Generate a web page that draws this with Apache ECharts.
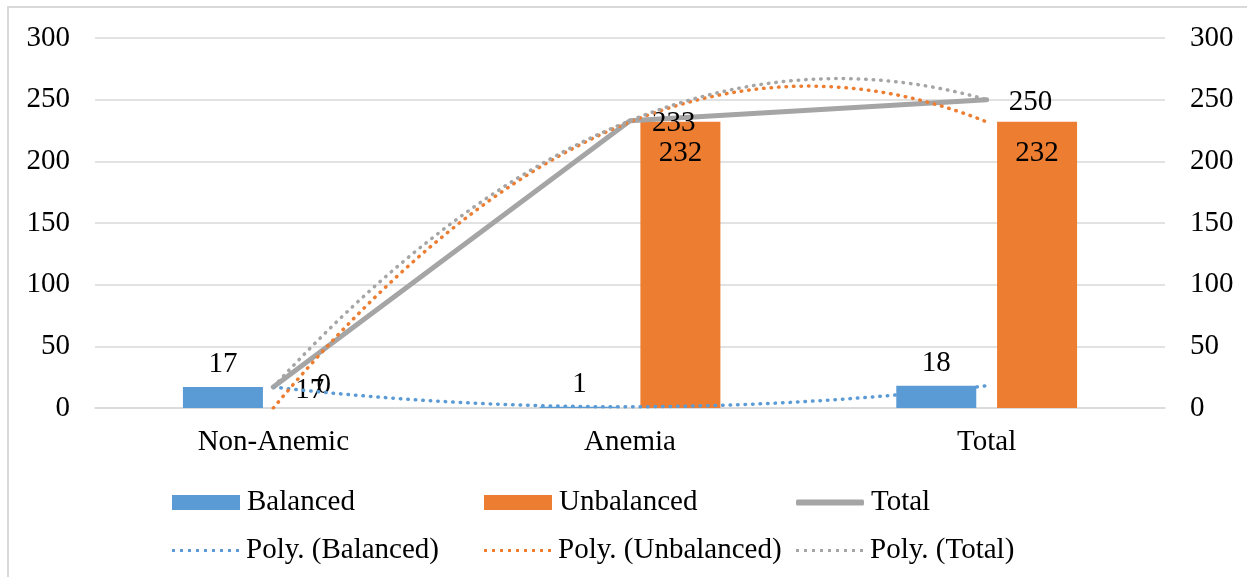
<!DOCTYPE html>
<html>
<head>
<meta charset="utf-8">
<script src="https://cdn.jsdelivr.net/npm/echarts@6/dist/echarts.min.js"></script>
<style>
  html, body { margin: 0; padding: 0; background: #fff; }
  #chart { width: 1247px; height: 577px; }
</style>
</head>
<body>
<div id="chart"></div>
<script>
// Categories and counts
var categories = ['Non-Anemic', 'Anemia', 'Total'];
var balanced = [17, 1, 18];
var unbalanced = [0, 232, 232];
var total = [17, 233, 250];
var yTicks = [0, 50, 100, 150, 200, 250, 300];

var FONT = '"Liberation Serif", "Times New Roman", serif';
var FS = 29;
var BLUE = '#5B9BD5', ORANGE = '#ED7D31', GRAY = '#A5A5A5';

// Least-squares polynomial trendline (order 2), x = 1..n as in a spreadsheet trendline
function polyFit(ys, order) {
  var n = order + 1;
  var A = [], b = [];
  for (var i = 0; i < n; i++) {
    A.push(new Array(n).fill(0));
    b.push(0);
  }
  ys.forEach(function (y, k) {
    var x = k + 1;
    for (var i = 0; i < n; i++) {
      for (var j = 0; j < n; j++) A[i][j] += Math.pow(x, i + j);
      b[i] += y * Math.pow(x, i);
    }
  });
  // Gaussian elimination
  for (var c = 0; c < n; c++) {
    var p = c;
    for (var r = c + 1; r < n; r++) if (Math.abs(A[r][c]) > Math.abs(A[p][c])) p = r;
    var t = A[c]; A[c] = A[p]; A[p] = t;
    var tb = b[c]; b[c] = b[p]; b[p] = tb;
    for (var r2 = c + 1; r2 < n; r2++) {
      var f = A[r2][c] / A[c][c];
      for (var j2 = c; j2 < n; j2++) A[r2][j2] -= f * A[c][j2];
      b[r2] -= f * b[c];
    }
  }
  var coef = new Array(n).fill(0);
  for (var i2 = n - 1; i2 >= 0; i2--) {
    var s = b[i2];
    for (var j3 = i2 + 1; j3 < n; j3++) s -= A[i2][j3] * coef[j3];
    coef[i2] = s / A[i2][i2];
  }
  return coef;
}
function trendline(ys) {
  var coef = polyFit(ys, 2);
  var pts = [];
  var steps = 80;
  for (var s = 0; s <= steps; s++) {
    var x = 1 + (ys.length - 1) * s / steps;
    var y = 0;
    for (var i = 0; i < coef.length; i++) y += coef[i] * Math.pow(x, i);
    pts.push([x, y]);
  }
  return pts;
}

var dotted = function (color) {
  return { color: color, width: 3.5, type: [0.5, 7], cap: 'round' };
};

// Legend icon for the dotted trendlines: a row of small squares
var dotIcon = (function () {
  var d = 'path://';
  for (var i = 0; i < 9; i++) d += 'M' + (i * 8) + ',0h3v3h-3z';
  return d;
})();

function legendAt(name, left, top, opts) {
  return Object.assign({
    data: [name], left: left, top: top, padding: 0,
    orient: 'horizontal',
    textStyle: { fontFamily: FONT, fontSize: FS, color: '#000', padding: [0, 0, 0, 2] },
    itemGap: 0, selectedMode: false
  }, opts || {});
}

var chart = echarts.init(document.getElementById('chart'), null, { renderer: 'canvas' });
var option = {
  backgroundColor: '#fff',
  animation: false,
  textStyle: { fontFamily: FONT },
  graphic: [{
    type: 'rect', silent: true, z: -10,
    shape: { x: 8, y: 7, width: 1300, height: 640 },
    style: { fill: 'none', stroke: '#d9d9d9', lineWidth: 2 }
  }],
  grid: { left: 95, right: 82, top: 38, bottom: 169, containLabel: false },
  legend: [
    legendAt('Balanced', 172, 488, { itemWidth: 68, itemHeight: 15, icon: 'rect' }),
    legendAt('Unbalanced', 484, 488, { itemWidth: 68, itemHeight: 15, icon: 'rect' }),
    legendAt('Total', 796, 488, { itemWidth: 68, itemHeight: 6, icon: 'roundRect' }),
    legendAt('Poly. (Balanced)', 172, 536, { itemWidth: 67, itemHeight: 3, icon: dotIcon }),
    legendAt('Poly. (Unbalanced)', 484, 536, { itemWidth: 67, itemHeight: 3, icon: dotIcon }),
    legendAt('Poly. (Total)', 796, 536, { itemWidth: 67, itemHeight: 3, icon: dotIcon })
  ],
  xAxis: [{
    type: 'category',
    data: categories,
    axisLine: { show: true, lineStyle: { color: '#d9d9d9', width: 1.5 } },
    axisTick: { show: false },
    axisLabel: { fontFamily: FONT, fontSize: FS, color: '#000', margin: 20 }
  }, {
    type: 'value', min: 0.5, max: 3.5, show: false
  }],
  yAxis: [{
    type: 'value', min: yTicks[0], max: yTicks[yTicks.length - 1], interval: 50,
    axisLine: { show: false }, axisTick: { show: false },
    splitLine: { lineStyle: { color: '#d9d9d9', width: 1.5 } },
    axisLabel: { fontFamily: FONT, fontSize: FS, color: '#000', margin: 25 }
  }, {
    type: 'value', position: 'right', min: yTicks[0], max: yTicks[yTicks.length - 1], interval: 50,
    axisLine: { show: false }, axisTick: { show: false }, splitLine: { show: false },
    axisLabel: { fontFamily: FONT, fontSize: FS, color: '#000', margin: 25, align: 'left' }
  }],
  series: [{
    name: 'Balanced', type: 'bar', data: balanced,
    barWidth: 80, barGap: '26%',
    itemStyle: { color: BLUE },
    label: { show: true, position: 'top', distance: 8, fontFamily: FONT, fontSize: FS, color: '#000' },
    z: 2
  }, {
    name: 'Unbalanced', type: 'bar',
    // a zero-height bar keeps its label above the baseline
    data: unbalanced.map(function (v) {
      return v === 0 ? { value: v, label: { position: 'top', distance: 8 } } : v;
    }),
    barWidth: 80, barGap: '26%',
    itemStyle: { color: ORANGE },
    label: { show: true, position: 'insideTop', distance: 17, fontFamily: FONT, fontSize: FS, color: '#000' },
    z: 2
  }, {
    name: 'Total', type: 'line', data: total,
    symbol: 'circle', symbolSize: 0,
    lineStyle: { color: GRAY, width: 5, cap: 'round', join: 'round' },
    itemStyle: { color: GRAY },
    label: { show: true, position: 'right', distance: 22, offset: [0, 3], fontFamily: FONT, fontSize: FS, color: '#000' },
    z: 4
  }, {
    name: 'Poly. (Balanced)', type: 'line', xAxisIndex: 1, data: trendline(balanced),
    symbol: 'none', lineStyle: dotted(BLUE), itemStyle: { color: BLUE }, z: 5
  }, {
    name: 'Poly. (Unbalanced)', type: 'line', xAxisIndex: 1, data: trendline(unbalanced),
    symbol: 'none', lineStyle: dotted(ORANGE), itemStyle: { color: ORANGE }, z: 5
  }, {
    name: 'Poly. (Total)', type: 'line', xAxisIndex: 1, data: trendline(total),
    symbol: 'none', lineStyle: dotted(GRAY), itemStyle: { color: GRAY }, z: 5
  }]
};
chart.setOption(option);
</script>
</body>
</html>
